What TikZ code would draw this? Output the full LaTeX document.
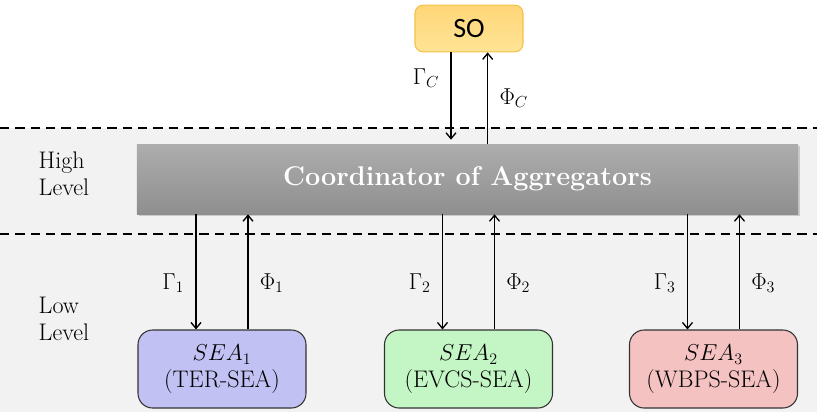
\documentclass[tikz,border=0pt]{standalone}
\usepackage{fontspec}
\newfontfamily\sofont{Carlito}
\usetikzlibrary{arrows.meta,shadows}
\definecolor{bgGray}{RGB}{242,242,242}
\definecolor{seaBlue}{RGB}{193,193,243}
\definecolor{seaGreen}{RGB}{196,245,196}
\definecolor{seaRed}{RGB}{245,194,194}
\definecolor{soTop}{RGB}{255,214,120}
\definecolor{soBot}{RGB}{255,228,150}
\definecolor{soEdge}{RGB}{244,193,72}
\begin{document}
\begin{tikzpicture}[x=0.75pt,y=0.75pt,yscale=-1,xscale=1,
  >={Straight Barb[length=4.5pt,width=7.5pt,line width=1pt]},
  txt/.style={font=\fontsize{18}{20}\selectfont},
  sea/.style={txt,draw=black!80,line width=0.8pt,rounded corners=11pt,
    minimum width=126pt,minimum height=58.5pt,align=center,inner sep=0pt},
  link/.style={->,line width=1.1pt},
  level/.style={dash pattern={on 7pt off 4.5pt},line width=0.9pt}]
\useasboundingbox (0,0) rectangle (817,412);

% background of the two levels
\fill[bgGray] (0,128) rectangle (817,412);
\draw[level] (0,128) -- (817,128);
\draw[level] (0,234) -- (817,234);

% Text Node
\node[txt,anchor=west,align=left] (high) at (34,174) {High\\Level};
% Text Node
\node[txt,anchor=west,align=left] (low) at (34,319) {Low\\Level};

% system operator
\node[font=\sofont\fontsize{21}{24}\selectfont,draw=soEdge,line width=0.8pt,
  rounded corners=6pt,top color=soTop,bottom color=soBot,
  minimum width=81pt,minimum height=35pt] (so) at (469,28.5) {SO};

% coordinator
\node[top color=black!32,bottom color=black!44,
  drop shadow={shadow xshift=1.5pt,shadow yshift=-1.5pt,opacity=0.35},
  minimum width=496pt,minimum height=52.5pt,text=white,
  font=\fontsize{20.3}{24}\selectfont\bfseries] (coord) at (467.5,179)
  {Coordinator of Aggregators};

% aggregators
\node[sea,fill=seaBlue] (sea1) at (222,369) {$SEA_1$\\(TER-SEA)};
\node[sea,fill=seaGreen] (sea2) at (468.5,369) {$SEA_2$\\(EVCS-SEA)};
\node[sea,fill=seaRed] (sea3) at (713.5,369) {$SEA_3$\\(WBPS-SEA)};

% SO <-> coordinator
\draw[link,shorten >=3pt] ([xshift=-13.5pt]so.south) --
  node[txt,left=5pt,pos=0.28] {$\Gamma_C$} ([xshift=-13.5pt]so.south |- coord.north);
\draw[link] ([xshift=14pt]so.south |- coord.north) --
  node[txt,right=5pt,pos=0.5] {$\Phi_C$} ([xshift=14pt]so.south);

% coordinator <-> aggregators
\foreach \i in {1,2,3}{
  \draw[link] ([xshift=-19.5pt]sea\i.north |- coord.south) --
    node[txt,left=5pt,pos=0.6] {$\Gamma_\i$} ([xshift=-19.5pt]sea\i.north);
  \draw[link] ([xshift=19.5pt]sea\i.north) --
    node[txt,right=5pt,pos=0.4] {$\Phi_\i$} ([xshift=19.5pt]sea\i.north |- coord.south);
}
\end{tikzpicture}
\end{document}
